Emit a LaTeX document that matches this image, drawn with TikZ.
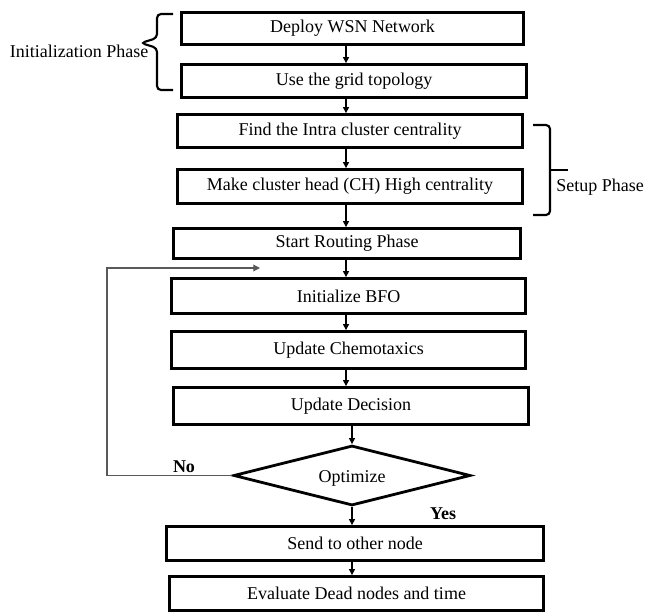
\documentclass[tikz,border=0pt]{standalone}
\usepackage{fontspec}
\setmainfont{Liberation Serif}
\usetikzlibrary{arrows.meta,shapes.geometric}

\begin{document}
\begin{tikzpicture}[x=0.75pt,y=-0.75pt,
    font=\fontsize{13.5}{16}\selectfont,
    box/.style={draw,line width=2.1pt,rectangle,inner sep=0pt},
    decision/.style={draw,line width=2.1pt,diamond,aspect=3.95,inner sep=0pt,
      minimum width=177.75pt,minimum height=45pt},
    arr/.style={line width=0.8pt,-{Triangle[length=4.5pt,width=4.5pt]}},
    loopline/.style={draw=black!65,line width=0.9pt,-{Triangle[length=5pt,width=5pt]}},
    bracket/.style={line width=1.6pt,rounded corners=3pt},
    lbl/.style={inner sep=0pt}]
  \useasboundingbox (0,0) rectangle (645,613);

  % initialization phase
  \node[box,minimum width=256.5pt,minimum height=24pt] (deploy) at (352.5,28.5) {Deploy WSN Network};
  \node[box,minimum width=258.75pt,minimum height=24.75pt] (grid) at (354,81) {Use the grid topology};

  % setup phase
  \node[box,minimum width=258.75pt,minimum height=24.75pt] (intra) at (350,131) {Find the Intra cluster centrality};
  \node[box,minimum width=258.75pt,minimum height=25.5pt] (chead) at (350,186.5) {Make cluster head (CH) High centrality};

  % routing phase
  \node[box,minimum width=260.25pt,minimum height=22.5pt] (route) at (347,243.5) {Start Routing Phase};
  \node[box,minimum width=265.5pt,minimum height=26.25pt] (bfo) at (348.5,296) {Initialize BFO};
  \node[box,minimum width=265.5pt,minimum height=27.75pt] (chemo) at (348.5,350) {Update Chemotaxics};
  \node[box,minimum width=266.25pt,minimum height=27.75pt] (decide) at (351,406) {Update Decision};
  \node[decision] (opt) at (352,475.5) {\raisebox{-5pt}[0pt][0pt]{Optimize}};
  \node[box,minimum width=282.75pt,minimum height=25.5pt] (send) at (355,543.5) {Send to other node};
  \node[box,minimum width=280.5pt,minimum height=25.5pt] (eval) at (356.5,593.5) {Evaluate Dead nodes and time};

  % spine arrows
  \coordinate (spine) at (346,0);
  \draw[arr] (deploy.south -| spine) -- (grid.north -| spine);
  \draw[arr] (grid.south -| spine) -- (intra.north -| spine);
  \draw[arr] (intra.south -| spine) -- (chead.north -| spine);
  \draw[arr] (chead.south -| spine) -- (route.north -| spine);
  \draw[arr] (route.south -| spine) -- (bfo.north -| spine);
  \draw[arr] (bfo.south -| spine) -- (chemo.north -| spine);
  \draw[arr] (chemo.south -| spine) -- (decide.north -| spine);
  \draw[arr] (decide.south -| opt.north) -- (opt.north);
  \draw[arr] (opt.south) -- (opt.south |- send.north);
  \draw[arr] (send.south -| opt.south) -- (eval.north -| opt.south);

  % loop back when not optimal
  \coordinate (loopcorner) at (107,268);
  \coordinate (loopend) at (260,268);
  \draw[loopline] (opt.west) -| (loopcorner) -- (loopend);
  \node[lbl,font=\fontsize{13.5}{16}\selectfont\bfseries] (no) at (184,467) {No};
  \node[lbl,font=\fontsize{13.5}{16}\selectfont\bfseries] (yes) at (443,514) {Yes};

  % phase brackets
  \draw[bracket] (173,14) -- (157,14) -- (157,38) -- (141,43) -- (157,48) -- (157,90) -- (173,90);
  \node[lbl] (initlbl) at (79,51) {Initialization Phase};
  \draw[bracket] (533,125) -- (550,125) -- (550,215) -- (533,215);
  \draw[bracket] (550,170) -- (568,170);
  \node[lbl] (setuplbl) at (600,187) {Setup Phase};
\end{tikzpicture}
\end{document}
